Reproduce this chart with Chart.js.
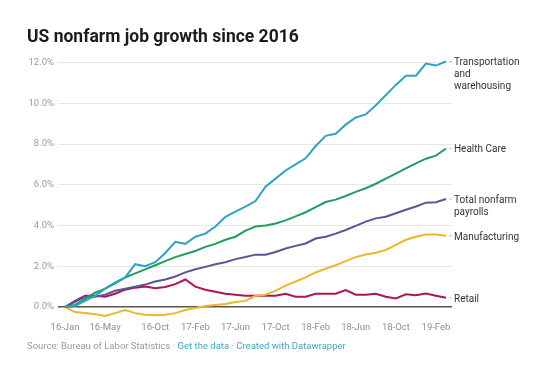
<!DOCTYPE html>
<html>
<head>
<meta charset="utf-8">
<script src="https://cdn.jsdelivr.net/npm/chart.js@4"></script>
<style>
  html, body { margin: 0; padding: 0; background: #fff; }
  #wrap { width: 548px; height: 383px; position: relative; }
</style>
</head>
<body>
<div id="wrap"><canvas id="chart-jobs"></canvas></div>
<script>
// months, Jan 2016 - Mar 2019
const months = [
  '16-Jan','16-Feb','16-Mar','16-Apr','16-May','16-Jun','16-Jul','16-Aug','16-Sep','16-Oct','16-Nov','16-Dec',
  '17-Jan','17-Feb','17-Mar','17-Apr','17-May','17-Jun','17-Jul','17-Aug','17-Sep','17-Oct','17-Nov','17-Dec',
  '18-Jan','18-Feb','18-Mar','18-Apr','18-May','18-Jun','18-Jul','18-Aug','18-Sep','18-Oct','18-Nov','18-Dec',
  '19-Jan','19-Feb','19-Mar'
];
// which months get an axis label
const monthTicks = [0, 4, 9, 13, 17, 21, 25, 29, 33, 37];
const percentTicks = [0, 2, 4, 6, 8, 10, 12];

// growth since Jan 2016, in %
const transport = [0, 0.05, 0.3, 0.55, 0.9, 1.15, 1.45, 2.1, 2.0, 2.2, 2.65, 3.2, 3.1, 3.45, 3.6, 3.95, 4.43, 4.68, 4.93, 5.2,
  5.9, 6.3, 6.7, 7.0, 7.3, 7.9, 8.4, 8.5, 8.95, 9.3, 9.45, 9.9, 10.4, 10.9, 11.35, 11.35, 11.95, 11.85, 12.05];
const health = [0, 0.1, 0.4, 0.7, 0.9, 1.2, 1.45, 1.65, 1.85, 2.05, 2.25, 2.45, 2.6, 2.75, 2.95, 3.1, 3.3, 3.45, 3.75, 3.95,
  4.0, 4.1, 4.25, 4.45, 4.65, 4.9, 5.15, 5.27, 5.45, 5.65, 5.83, 6.05, 6.3, 6.55, 6.8, 7.05, 7.28, 7.43, 7.78];
const total = [0, 0.25, 0.5, 0.5, 0.6, 0.8, 0.9, 1.0, 1.1, 1.25, 1.35, 1.5, 1.7, 1.85, 1.97, 2.1, 2.2, 2.35, 2.45, 2.57,
  2.57, 2.7, 2.87, 3.0, 3.12, 3.36, 3.45, 3.6, 3.78, 3.98, 4.19, 4.35, 4.43, 4.6, 4.77, 4.93, 5.12, 5.14, 5.3];
const manufacturing = [0, -0.25, -0.3, -0.35, -0.44, -0.3, -0.15, -0.3, -0.38, -0.4, -0.38, -0.3, -0.15, -0.05, 0.05, 0.1, 0.15, 0.25, 0.3, 0.55,
  0.6, 0.8, 1.05, 1.25, 1.45, 1.7, 1.88, 2.05, 2.25, 2.45, 2.58, 2.66, 2.8, 3.05, 3.3, 3.45, 3.56, 3.56, 3.5];
const retail = [0, 0.3, 0.55, 0.55, 0.5, 0.65, 0.85, 0.95, 1.0, 0.92, 0.98, 1.12, 1.35, 1.0, 0.85, 0.75, 0.65, 0.6, 0.55, 0.55,
  0.55, 0.55, 0.65, 0.5, 0.5, 0.65, 0.65, 0.65, 0.83, 0.6, 0.6, 0.65, 0.5, 0.42, 0.62, 0.58, 0.66, 0.55, 0.45];

const seriesNames = [
  ['Transportation', 'and', 'warehousing'],
  ['Health Care'],
  ['Total nonfarm', 'payrolls'],
  ['Manufacturing'],
  ['Retail']
];
const seriesColors = ['#2ea3c4', '#1f9e5c', '#5b5496', '#e9b92c', '#ad1459'];

// turn a value list into x/y points
function toPoints (values) {
  return values.map((v, i) => ({ x: i, y: v }));
}

// labels at the end of each line, title and source line
const annotations = {
  id: 'annotations',
  afterDatasetsDraw (chart) {
    const ctx = chart.ctx;
    ctx.save();
    chart.data.datasets.forEach((ds, k) => {
      const meta = chart.getDatasetMeta(k);
      const pt = meta.data[meta.data.length - 1];
      ctx.strokeStyle = '#c8c8c8';
      ctx.lineWidth = 1;
      ctx.beginPath();
      ctx.moveTo(pt.x + 3, pt.y);
      ctx.lineTo(pt.x + 6, pt.y);
      ctx.stroke();
      ctx.fillStyle = '#333';
      ctx.font = '10px Roboto';
      ctx.textAlign = 'left';
      ctx.textBaseline = 'middle';
      seriesNames[k].forEach((t, j) => ctx.fillText(t, pt.x + 8, pt.y + 1.5 + j * 12));
    });

    // title
    ctx.fillStyle = '#1b1b1b';
    ctx.font = 'bold 17.5px Roboto';
    ctx.textBaseline = 'alphabetic';
    ctx.fillText('US nonfarm job growth since 2016', 27, 42);

    // source line
    const parts = [
      ['Source: Bureau of Labor Statistics', '#9a9a9a'],
      [' \u00b7 ', '#9a9a9a'],
      ['Get the data', '#49a6c0'],
      [' \u00b7 ', '#49a6c0'],
      ['Created with Datawrapper', '#49a6c0']
    ];
    ctx.font = '9.5px Roboto';
    ctx.textBaseline = 'middle';
    let x = 27;
    parts.forEach(([t, c]) => {
      ctx.fillStyle = c;
      ctx.fillText(t, x, 347);
      x += ctx.measureText(t).width;
    });
    ctx.restore();
  }
};

const datasets = [transport, health, total, manufacturing, retail].map((values, k) => ({
  label: seriesNames[k].join(' '),
  data: toPoints(values),
  borderColor: seriesColors[k],
  backgroundColor: seriesColors[k],
  borderWidth: 2,
  pointRadius: 0,
  tension: 0,
  clip: false
}));

let jobsChart = new Chart(document.getElementById('chart-jobs').getContext('2d'), {
  type: 'line',
  data: { datasets: datasets },
  options: {
    responsive: true,
    maintainAspectRatio: false,
    animation: false,
    layout: { padding: { left: 0, right: 96, top: 62.5, bottom: 50 } },
    plugins: {
      legend: { display: false },
      tooltip: { enabled: false }
    },
    scales: {
      x: {
        type: 'linear',
        min: -0.7,
        max: 38.6,
        afterBuildTicks: (scale) => { scale.ticks = monthTicks.map(v => ({ value: v })); },
        afterFit: (scale) => { scale.height = 26; },
        grid: { display: false },
        border: { display: false },
        ticks: {
          autoSkip: false,
          maxRotation: 0,
          padding: 7,
          color: '#8f8f8f',
          font: { family: 'Roboto', size: 9.5 },
          callback: (v) => months[v]
        }
      },
      y: {
        min: 0,
        max: 12,
        afterBuildTicks: (scale) => { scale.ticks = percentTicks.map(v => ({ value: v })); },
        afterFit: (scale) => { scale.width = 58; },
        border: { display: false },
        grid: {
          drawTicks: false,
          color: (c) => c.tick && c.tick.value === 0 ? '#555' : '#e6e6e6',
          lineWidth: (c) => c.tick && c.tick.value === 0 ? 1.5 : 1
        },
        ticks: {
          padding: 4,
          color: '#9a9a9a',
          font: { family: 'Roboto', size: 9.5 },
          callback: (v) => v.toFixed(1) + '%'
        }
      }
    }
  },
  plugins: [annotations]
});
</script>
</body>
</html>
